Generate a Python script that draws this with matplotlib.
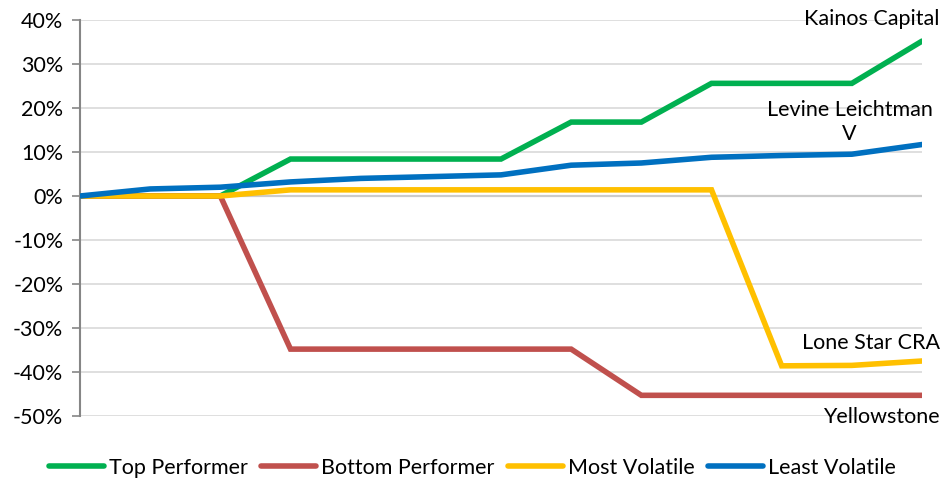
import matplotlib
matplotlib.use("Agg")
import matplotlib.pyplot as plt
from matplotlib.ticker import FuncFormatter

plt.rcParams['font.family'] = ['Lato', 'DejaVu Sans']

# data, one point per period
periods = list(range(13))
top_performer = [0, 0, 0, 8.4, 8.4, 8.4, 8.4, 16.8, 16.8, 25.6, 25.6, 25.6, 35.2]
bottom_performer = [0, 0, 0, -34.8, -34.8, -34.8, -34.8, -34.8, -45.3, -45.3, -45.3, -45.3, -45.3]
most_volatile = [0, 0, 0, 1.4, 1.4, 1.4, 1.4, 1.4, 1.4, 1.4, -38.6, -38.5, -37.5]
least_volatile = [0, 1.6, 2.0, 3.2, 4.0, 4.4, 4.8, 7.0, 7.5, 8.8, 9.2, 9.5, 11.7]

series_names = ["Top Performer", "Bottom Performer", "Most Volatile", "Least Volatile"]
series_colors = ["#00B050", "#C0504D", "#FFC000", "#0070C0"]
fund_names = ["Kainos Capital", "Yellowstone", "Lone Star CRA", "Levine Leichtman\nV"]

yticks = list(range(-50, 41, 10))
fs = 15.5

fig = plt.figure(figsize=(9.45, 4.82), dpi=100)
ax = fig.add_axes([80 / 945, 1 - 416 / 482, 842 / 945, 396 / 482])

for vals, name, col in zip([top_performer, bottom_performer, most_volatile, least_volatile],
                           series_names, series_colors):
    ax.plot(periods, vals, color=col, lw=4, label=name, solid_capstyle='round',
            solid_joinstyle='miter', zorder=3)

ax.set_xlim(0, 12)
ax.set_ylim(-50, 40)
ax.set_yticks(yticks)
ax.yaxis.set_major_formatter(FuncFormatter(lambda v, p: f"{int(v)}%"))
ax.set_xticks([])
ax.grid(axis='y', color='#D9D9D9', lw=1.2, zorder=0)
ax.axhline(0, color='#868686', lw=1.5, zorder=1)
for s in ['top', 'right', 'bottom']:
    ax.spines[s].set_visible(False)
ax.spines['left'].set_color('#868686')
ax.spines['left'].set_linewidth(1.5)
ax.tick_params(axis='y', length=6, width=1.2, color='#868686', labelsize=fs, pad=6)

# end-of-line fund labels
trans = ax.get_yaxis_transform()
ax.text(1.021, 40.3, fund_names[0], transform=trans, ha='right', va='center', fontsize=fs)
ax.text(1.021, -50.2, fund_names[1], transform=trans, ha='right', va='center', fontsize=fs)
ax.text(1.021, -33.4, fund_names[2], transform=trans, ha='right', va='center', fontsize=fs)
ax.text(0.914, 16.9, fund_names[3], transform=trans, ha='center', va='center',
        fontsize=fs, linespacing=1.25)

fig.legend(loc='center', bbox_to_anchor=(0.5, 1 - 468 / 482), ncol=4, frameon=False, fontsize=fs,
           handlelength=2.55, handletextpad=0.25, columnspacing=0.6)

fig.savefig("out.png", dpi=100)
